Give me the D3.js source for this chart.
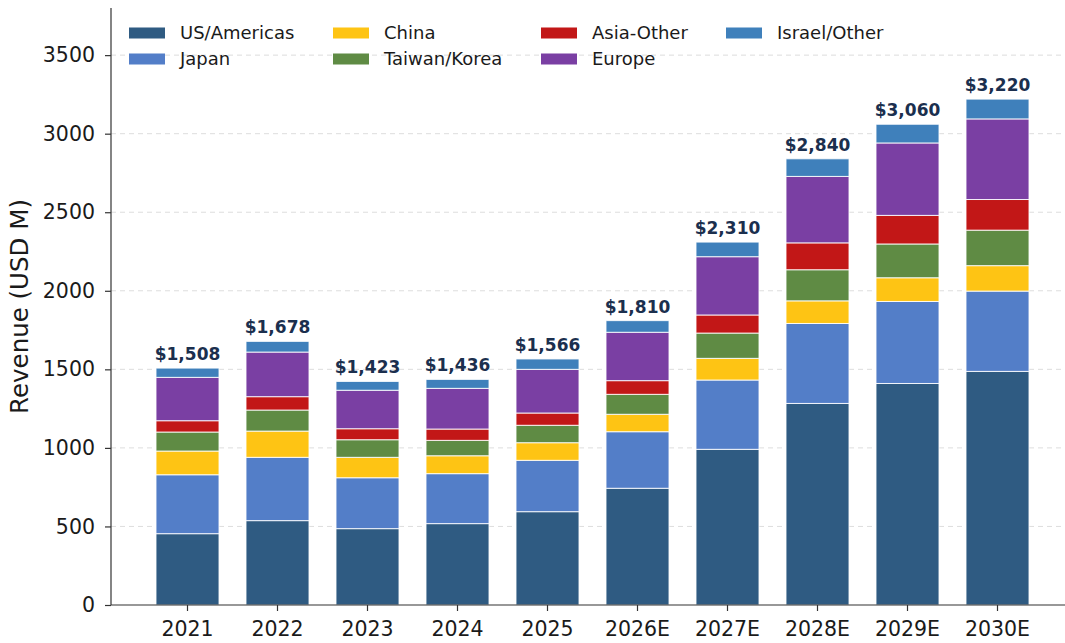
<!DOCTYPE html>
<html>
<head>
<meta charset="utf-8">
<script src="https://cdn.jsdelivr.net/npm/d3@7/dist/d3.min.js"></script>
<style>
  body { margin: 0; background: #fff; }
  svg { display: block; font-family: "DejaVu Sans", sans-serif; }
  .axis path, .axis line { stroke: #333; stroke-width: 1.2; }
  .axis text { fill: #1a1a1a; font-size: 20.5px; font-family: "DejaVu Sans", sans-serif; }
  .grid line { stroke: #ddd; stroke-dasharray: 5,4; stroke-width: 1; }
</style>
</head>
<body>
<div id="chart"></div>
<script>
var years = ["2021", "2022", "2023", "2024", "2025", "2026E", "2027E", "2028E", "2029E", "2030E"];
var regions = ["US/Americas", "Japan", "China", "Taiwan/Korea", "Asia-Other", "Europe", "Israel/Other"];
var colors = ["#2f5b82", "#537ec8", "#fec414", "#5f8b44", "#c21717", "#7a3fa3", "#3f80bb"];

// revenue by region, USD M
var usAmericas = [454, 537, 486, 518, 594, 743, 991, 1283, 1410, 1487];
var japan      = [375, 403, 324, 318, 327, 360, 441, 509, 522, 511];
var china      = [151, 167, 130, 114, 112, 111, 138, 144, 151, 162];
var taiwanKorea = [121, 134, 112, 98, 111, 127, 161, 198, 215, 226];
var asiaOther  = [72, 85, 70, 72, 78, 87, 115, 171, 182, 195];
var europe     = [276, 284, 245, 259, 278, 308, 371, 423, 461, 513];
var israelOther = [59, 68, 56, 57, 66, 74, 93, 112, 119, 126];

var yTicks = [0, 500, 1000, 1500, 2000, 2500, 3000, 3500];

var series = [usAmericas, japan, china, taiwanKorea, asiaOther, europe, israelOther];

var rows = years.map(function (yr, i) {
  var r = { year: yr };
  regions.forEach(function (k, j) { r[k] = series[j][i]; });
  r.total = d3.sum(series, function (s) { return s[i]; });
  return r;
});

var W = 1065, H = 643;
var margin = { left: 111, top: 8, bottom: 38 };
var plotBottom = H - margin.bottom;

var svg = d3.select("#chart").append("svg")
  .attr("width", W)
  .attr("height", H);

var x = d3.scaleBand()
  .domain(years)
  .range([margin.left, margin.left + 963])
  .paddingInner(0.3)
  .paddingOuter(0.5);

var y = d3.scaleLinear()
  .domain([0, 3800])
  .range([plotBottom, margin.top]);

// grid
svg.append("g")
  .attr("class", "grid")
  .selectAll("line")
  .data(yTicks.slice(1))
  .enter()
  .append("line")
  .attr("x1", margin.left)
  .attr("x2", W)
  .attr("y1", function (d) { return y(d); })
  .attr("y2", function (d) { return y(d); });

var stack = d3.stack().keys(regions);
var layers = stack(rows);

svg.append("g")
  .selectAll("g")
  .data(layers)
  .enter()
  .append("g")
  .attr("fill", function (d, i) { return colors[i]; })
  .selectAll("rect")
  .data(function (d) { return d; })
  .enter()
  .append("rect")
  .attr("x", function (d) { return x(d.data.year); })
  .attr("width", x.bandwidth())
  .attr("y", function (d) { return y(d[1]); })
  .attr("height", function (d) { return y(d[0]) - y(d[1]); })
  .attr("stroke", "#fff")
  .attr("stroke-opacity", 0.85)
  .attr("stroke-width", 1);

// totals
svg.append("g")
  .selectAll("text")
  .data(rows)
  .enter()
  .append("text")
  .attr("x", function (d) { return x(d.year) + x.bandwidth() / 2; })
  .attr("y", function (d) { return y(d.total) - 8; })
  .attr("text-anchor", "middle")
  .attr("font-weight", "bold")
  .attr("font-size", "17px")
  .attr("fill", "#1b2f4e")
  .text(function (d) { return "$" + d3.format(",")(d.total); });

// axes
var yAxis = d3.axisLeft(y).tickValues(yTicks).tickSize(6).tickPadding(10).tickFormat(d3.format("d"));
var xAxis = d3.axisBottom(x).tickSize(6).tickPadding(10).tickSizeOuter(0);

svg.append("g")
  .attr("class", "axis axis--y")
  .attr("transform", "translate(" + margin.left + ",0)")
  .call(yAxis)
  .call(function (g) {
    g.select(".domain").attr("d", "M0," + margin.top + "V" + plotBottom);
  });

svg.append("g")
  .attr("class", "axis axis--x")
  .attr("transform", "translate(0," + plotBottom + ")")
  .call(xAxis)
  .call(function (g) {
    g.select(".domain").attr("d", "M" + margin.left + ",0H" + W);
  });

svg.append("text")
  .attr("transform", "translate(19," + (margin.top + plotBottom) / 2 + ") rotate(-90)")
  .attr("text-anchor", "middle")
  .attr("dominant-baseline", "central")
  .attr("font-size", "24.5px")
  .attr("fill", "#1a1a1a")
  .text("Revenue (USD M)");

// legend: 4 columns, filled column by column
var legendCols = [129, 333, 541, 726];
var legendRows = [33, 59];
var legend = svg.append("g").attr("class", "legend");
regions.forEach(function (k, i) {
  var col = Math.floor(i / 2), row = i % 2;
  var lg = legend.append("g")
    .attr("transform", "translate(" + legendCols[col] + "," + legendRows[row] + ")");
  lg.append("rect")
    .attr("x", 0)
    .attr("y", -5.5)
    .attr("width", 36)
    .attr("height", 11)
    .attr("fill", colors[i]);
  lg.append("text")
    .attr("x", 51)
    .attr("y", 0)
    .attr("dy", "0.36em")
    .attr("font-size", "18px")
    .attr("fill", "#1a1a1a")
    .text(k);
});
</script>
</body>
</html>
